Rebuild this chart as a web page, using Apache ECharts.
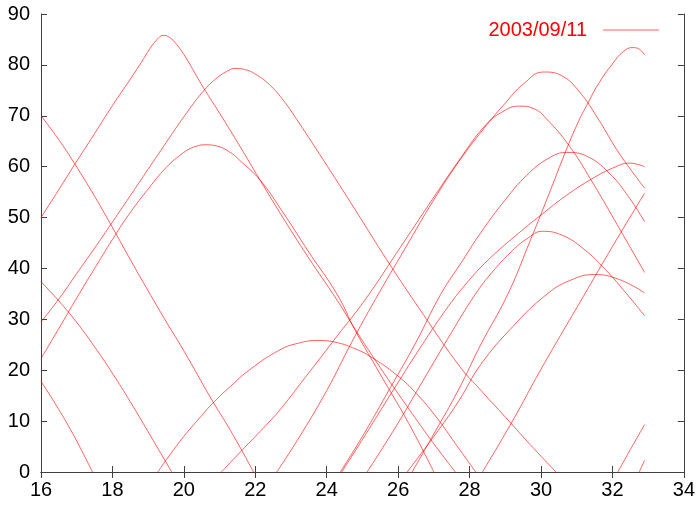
<!DOCTYPE html>
<html>
<head>
<meta charset="utf-8">
<script src="https://cdn.jsdelivr.net/npm/echarts@6/dist/echarts.min.js"></script>
<style>
html,body{margin:0;padding:0;background:#fff;}
#chart{width:698px;height:510px;}
</style>
</head>
<body>
<div id="chart"></div>
<script>
// Satellite elevation passes, x = hour of day, y = elevation (deg)
const legendName = '2003/09/11';
const xTicks = {min: 16, max: 34, interval: 2};
const yTicks = {min: 0, max: 90, interval: 10};

const passA = [[16,50],[16.5,55.5],[16.94,60.4],[17.5,66.5],[18,72],[18.5,77.2],[18.8,80.4],[19.05,83.2],[19.25,85.0],[19.42,85.8],[19.6,85.4],[19.8,84.0],[20.05,81.5],[20.3,78.5],[20.54,75.6],[21.0,70.5],[21.57,64],[22.13,57.4],[22.7,50.8],[23.5,42.0],[24.27,34.0],[24.8,28],[25.5,20.5],[26.2,13.4],[26.9,6.5],[27.6,0]];
const passB = [[16,29.5],[16.5,34],[17,39],[17.5,44],[17.92,48.3],[18.5,54.3],[19,59.5],[19.5,64.7],[20,69.8],[20.54,74.8],[20.9,77.3],[21.2,78.7],[21.43,79.3],[21.7,79.1],[22.0,78.2],[22.4,76.1],[22.8,72.9],[23.16,69.3],[23.6,64.6],[24.1,59.2],[24.9,50.4],[25.69,41.6],[26.7,31],[27.75,20.5],[28.31,16.1],[29.13,9.8],[29.8,4.6],[30.42,0]];
const passC = [[16,22.3],[16.5,28.2],[17,34.2],[17.5,40],[18.1,46.8],[18.5,51],[19,55.6],[19.5,59.8],[20,62.8],[20.3,63.9],[20.6,64.3],[20.9,64.1],[21.3,62.8],[21.57,61.2],[22.13,57.4],[22.7,51.8],[23.5,43.2],[24.3,34.8],[24.8,27.8],[25.5,19.2],[26.3,9.5],[27.0,0]];
const passD = [[16,70],[16.5,65.3],[16.94,60.6],[17.5,54.2],[18.1,46.8],[18.6,40.5],[19,35.6],[19.5,29.6],[20,23.8],[20.78,14.2],[21.2,9.4],[21.57,4.9],[21.95,0]];
const passE = [[16,37.4],[16.5,33.6],[17,29.4],[17.5,24.6],[18,19.4],[18.5,13.8],[19,7.9],[19.66,0]];
const passF = [[16,17.8],[16.4,13.4],[16.9,7.4],[17.44,0]];
const passG = [[19.27,0],[19.6,3.3],[20.0,7.0],[20.4,10.3],[20.78,13.3],[21.3,16.8],[21.9,20.4],[22.69,24.0],[23.2,25.3],[23.75,25.85],[24.3,25.4],[24.8,24.2],[25.22,22.7],[25.97,19.0],[26.5,15.5],[27.1,10.5],[27.6,5.6],[28.17,0]];
const passQ = [[22.6,0],[23.2,6.5],[24.0,16],[24.7,25.5],[25.36,33.9],[26.2,44],[27.0,53.5],[27.7,61],[28.4,67.5],[29.0,72.5],[29.5,76.2],[30.07,78.6],[30.6,77.8],[31.1,74.5],[31.59,69.5],[32.2,62.5],[32.9,55.8]];
const passR = [[21.05,0],[21.7,4.8],[22.41,10],[22.69,12.2],[23.5,19.5],[24.3,26.8],[25.08,33.9],[26.0,43.5],[26.95,53.5],[27.7,61.2],[28.4,67.8],[28.9,70.7],[29.39,71.9],[29.8,71.4],[30.14,69.5],[30.8,64],[31.4,57.4],[32.1,49],[32.9,39.2]];
const passS = [[24.38,0],[25.0,7],[25.8,16.8],[26.5,25.5],[27.19,34.9],[27.8,41.5],[28.31,47.0],[29.0,53.5],[29.6,58.3],[30.2,61.6],[30.73,62.8],[31.3,62.0],[31.9,58.8],[32.4,54.6],[32.9,49.2]];
const passT = [[24.42,0],[25.1,7.5],[25.9,16.5],[26.7,25.3],[27.4,32.5],[28.0,37.8],[28.6,42.2],[29.3,46.5],[30.0,50.5],[30.7,54.3],[31.4,57.5],[32.0,59.7],[32.48,60.7],[32.9,60.0]];
const passU = [[25.13,0],[25.9,8.5],[26.7,18],[27.5,27.5],[28.12,34.5],[28.6,39],[29.2,43.5],[29.6,45.8],[30.04,47.3],[30.6,46.5],[31.2,43.8],[31.8,39.8],[32.4,35],[32.9,30.7]];
const passV = [[26.25,0],[27.0,7],[27.7,14],[28.31,21.1],[29.2,28.5],[30.14,34.8],[30.8,37.6],[31.5,38.8],[32.2,37.8],[32.9,35.2]];
const passW = [[26.39,0],[27.0,7.5],[27.7,16.3],[28.31,25],[29.06,34.8],[29.7,45.5],[30.3,56],[30.65,62.3],[31.03,68.6],[31.3,72.3],[31.6,76.2],[32.0,80.2],[32.3,82.6],[32.55,83.4],[32.75,83.1],[32.9,81.9]];
const passN = [[28.36,0],[29.2,10],[30.0,20.2],[31.21,34.8],[32.0,44.3],[32.9,54.8]];
const passO = [[32.15,0],[32.5,4.4],[32.9,9.3]];
const passP = [[32.75,0],[32.9,2.3]];

const passes = [passA, passB, passC, passD, passE, passF, passG, passQ, passR, passS, passT, passU, passV, passW, passN, passO, passP];

const chart = echarts.init(document.getElementById('chart'), null, {renderer: 'canvas'});
const font = 'Liberation Sans, Arial, Helvetica, sans-serif';
const axisColor = '#404040';
const lineColor = 'rgba(255,0,0,0.62)';

const series = passes.map(p => ({
  name: legendName,
  type: 'line',
  data: p,
  symbol: 'none',
  showSymbol: false,
  smooth: 0.45,
  silent: true,
  color: lineColor,
  lineStyle: {color: lineColor, width: 1},
  xAxisIndex: 0,
  yAxisIndex: 0
}));

chart.setOption({
  animation: false,
  backgroundColor: '#ffffff',
  grid: {left: 41, right: 14, top: 14, bottom: 38, containLabel: false},
  legend: {
    show: true,
    data: [{name: legendName, icon: 'rect'}],
    orient: 'horizontal',
    left: 'auto',
    right: 39,
    top: 20,
    bottom: 'auto',
    padding: 0,
    align: 'right',
    itemWidth: 56,
    itemHeight: 1,
    itemGap: 0,
    itemStyle: {color: lineColor, borderWidth: 0},
    textStyle: {color: '#ff0000', fontSize: 20, fontFamily: font, padding: [0, 11, 0, 0]}
  },
  xAxis: [
    {type: 'value', min: xTicks.min, max: xTicks.max, interval: xTicks.interval, position: 'bottom',
     axisLine: {show: true, lineStyle: {color: axisColor, width: 1}},
     axisTick: {show: true, inside: true, length: 6, lineStyle: {color: axisColor}},
     axisLabel: {color: '#000', fontSize: 20, fontFamily: font, margin: 8},
     splitLine: {show: false}},
    {type: 'value', min: xTicks.min, max: xTicks.max, interval: xTicks.interval, position: 'top',
     axisLine: {show: true, lineStyle: {color: axisColor, width: 1}},
     axisTick: {show: true, inside: true, length: 6, lineStyle: {color: axisColor}},
     axisLabel: {show: false}, splitLine: {show: false}}
  ],
  yAxis: [
    {type: 'value', min: yTicks.min, max: yTicks.max, interval: yTicks.interval, position: 'left',
     axisLine: {show: true, lineStyle: {color: axisColor, width: 1}},
     axisTick: {show: true, inside: true, length: 6, lineStyle: {color: axisColor}},
     axisLabel: {color: '#000', fontSize: 20, fontFamily: font, margin: 11},
     splitLine: {show: false}},
    {type: 'value', min: yTicks.min, max: yTicks.max, interval: yTicks.interval, position: 'right',
     axisLine: {show: true, lineStyle: {color: axisColor, width: 1}},
     axisTick: {show: true, inside: true, length: 6, lineStyle: {color: axisColor}},
     axisLabel: {show: false}, splitLine: {show: false}}
  ],
  series: series
});
</script>
</body>
</html>
